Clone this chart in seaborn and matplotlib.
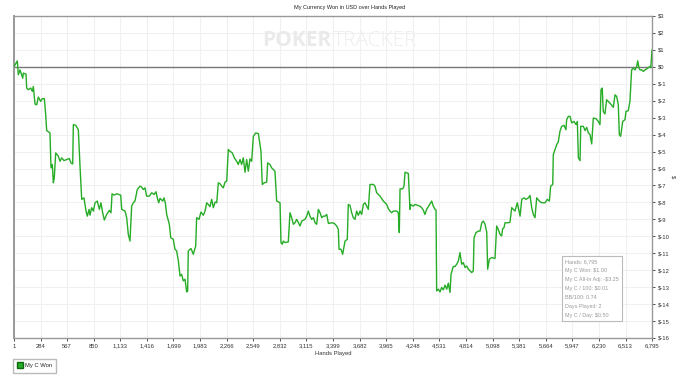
import matplotlib
matplotlib.use("Agg")
import matplotlib.pyplot as plt
import seaborn as sns
import pandas as pd
from matplotlib.lines import Line2D

hands = [1, 12, 36, 47, 65, 94, 100, 129, 136, 153, 179, 196, 207, 225, 243, 260, 285, 302, 324, 338,
         349, 384, 395, 409, 420, 430, 445, 473, 491, 509, 533, 562, 590, 608, 626, 633, 658, 686, 704, 722,
         746, 768, 782, 800, 810, 828, 846, 864, 888, 910, 927, 945, 963, 988, 1016, 1034, 1045, 1066, 1095, 1137,
         1148, 1183, 1201, 1218, 1236, 1254, 1271, 1289, 1314, 1343, 1361, 1378, 1396, 1414, 1442, 1467, 1492, 1513, 1527, 1542,
         1556, 1585, 1598, 1612, 1627, 1655, 1670, 1697, 1715, 1733, 1751, 1769, 1786, 1804, 1822, 1840, 1850, 1857, 1886, 1910,
         1936, 1946, 1971, 1992, 2017, 2035, 2053, 2070, 2088, 2106, 2124, 2142, 2160, 2177, 2195, 2213, 2230, 2248, 2266, 2283,
         2301, 2326, 2347, 2372, 2389, 2408, 2425, 2443, 2461, 2479, 2496, 2514, 2532, 2550, 2575, 2603, 2621, 2631, 2645, 2667,
         2692, 2702, 2727, 2745, 2762, 2780, 2798, 2834, 2844, 2858, 2869, 2887, 2922, 2940, 2958, 2976, 2993, 3011, 3029, 3047,
         3065, 3100, 3118, 3135, 3153, 3171, 3189, 3207, 3224, 3242, 3260, 3278, 3295, 3313, 3331, 3349, 3384, 3412, 3437, 3455,
         3462, 3483, 3501, 3526, 3550, 3561, 3579, 3597, 3614, 3632, 3650, 3668, 3686, 3703, 3721, 3739, 3757, 3774, 3792, 3828,
         3845, 3863, 3899, 3934, 3952, 3970, 3987, 4005, 4023, 4041, 4076, 4094, 4104, 4112, 4140, 4154, 4165, 4200, 4218, 4225,
         4253, 4271, 4324, 4342, 4359, 4377, 4395, 4413, 4449, 4466, 4484, 4495, 4502, 4520, 4537, 4555, 4573, 4591, 4609, 4626,
         4644, 4655, 4679, 4697, 4715, 4733, 4750, 4768, 4786, 4804, 4822, 4839, 4857, 4875, 4892, 4900, 4921, 4946, 4964, 4982,
         5000, 5017, 5035, 5045, 5063, 5088, 5123, 5141, 5158, 5176, 5194, 5205, 5219, 5230, 5265, 5283, 5301, 5336, 5361, 5390,
         5408, 5432, 5453, 5478, 5496, 5514, 5531, 5549, 5567, 5595, 5620, 5656, 5680, 5702, 5716, 5738, 5744, 5762, 5780, 5797,
         5815, 5833, 5858, 5879, 5886, 5904, 5922, 5940, 5964, 5986, 6000, 6011, 6029, 6036, 6064, 6082, 6100, 6117, 6135, 6153,
         6170, 6199, 6223, 6241, 6252, 6265, 6276, 6294, 6312, 6347, 6383, 6401, 6419, 6436, 6447, 6461, 6483, 6507, 6518, 6542,
         6560, 6578, 6596, 6614, 6632, 6643, 6657, 6668, 6686, 6703, 6721, 6739, 6757, 6775, 6782, 6795]

won = [0.00, 0.12, 0.35, -0.47, -0.18, -0.67, -0.37, -0.43, -1.25, -1.35, -1.25, -1.45, -1.16, -2.20, -2.24, -1.78, -2.04, -1.88, -1.88, -2.78,
       -3.76, -3.90, -5.96, -5.76, -6.84, -6.55, -5.08, -5.27, -5.57, -5.37, -5.53, -5.47, -5.41, -5.67, -5.73, -3.41, -3.45, -3.71, -5.86, -7.82,
       -7.73, -8.51, -8.81, -8.41, -8.75, -8.31, -8.51, -8.02, -7.92, -8.41, -8.02, -8.61, -9.04, -8.71, -8.47, -8.61, -7.49, -7.57, -7.49, -7.57,
       -8.41, -8.51, -8.90, -9.88, -10.28, -8.22, -8.02, -7.92, -7.24, -7.04, -7.10, -7.24, -7.14, -7.63, -7.63, -7.43, -7.53, -7.37, -7.73, -8.02,
       -7.76, -7.92, -7.73, -8.02, -8.71, -9.29, -10.08, -10.18, -10.76, -10.86, -11.45, -12.34, -12.24, -12.63, -12.53, -13.28, -13.24, -10.86, -10.72, -11.06,
       -10.57, -8.90, -9.00, -8.57, -8.76, -8.51, -8.02, -8.12, -8.25, -7.82, -8.31, -7.98, -8.02, -6.84, -6.90, -7.04, -7.14, -6.80, -6.75, -4.88,
       -4.98, -5.08, -5.37, -5.57, -5.76, -5.47, -5.76, -5.37, -6.22, -5.47, -6.16, -5.43, -5.57, -4.10, -3.90, -3.94, -4.59, -4.98, -6.94, -6.84,
       -6.80, -5.67, -5.76, -5.96, -6.06, -6.16, -7.92, -8.02, -10.37, -10.47, -10.28, -10.37, -10.33, -8.61, -8.90, -9.29, -9.20, -9.00, -9.20, -9.39,
       -9.10, -9.00, -8.81, -8.51, -8.81, -9.00, -8.90, -9.20, -9.29, -8.41, -8.61, -8.90, -8.81, -8.81, -8.71, -9.24, -9.20, -9.24, -9.39, -9.59,
       -10.76, -10.76, -11.06, -10.28, -10.18, -8.12, -8.18, -8.61, -8.90, -9.00, -8.51, -8.76, -8.51, -8.71, -8.12, -8.02, -8.22, -8.41, -6.94, -6.94,
       -7.04, -7.43, -7.63, -7.92, -8.02, -8.12, -8.37, -8.51, -8.61, -8.51, -8.51, -8.61, -9.78, -7.20, -7.20, -7.04, -6.22, -6.29, -8.41, -8.12,
       -8.22, -8.12, -8.22, -8.31, -8.45, -8.71, -8.41, -8.25, -7.92, -8.22, -8.41, -8.45, -13.22, -13.12, -13.28, -13.02, -13.16, -12.88, -13.12, -12.76,
       -13.31, -12.24, -11.78, -11.78, -11.65, -11.45, -10.96, -11.65, -11.55, -11.84, -11.75, -11.94, -12.04, -12.14, -12.04, -10.08, -9.78, -9.69, -9.69, -9.20,
       -9.10, -9.29, -9.75, -11.94, -11.35, -11.25, -11.31, -9.39, -9.59, -9.88, -9.98, -9.55, -9.49, -9.20, -9.20, -9.16, -8.31, -8.51, -8.02, -8.81,
       -7.82, -7.73, -7.82, -7.73, -7.59, -8.31, -8.71, -8.90, -7.73, -7.92, -8.02, -8.02, -7.82, -7.92, -7.04, -6.94, -5.18, -4.88, -4.59, -4.43,
       -3.80, -3.51, -3.45, -3.71, -3.12, -2.92, -2.92, -3.31, -3.22, -3.41, -3.22, -5.37, -5.53, -3.51, -3.51, -3.76, -3.57, -3.90, -4.00, -4.55,
       -3.02, -3.06, -3.22, -3.41, -1.35, -1.25, -2.63, -2.78, -1.94, -2.14, -2.39, -1.65, -1.75, -2.24, -4.00, -4.10, -3.22, -3.12, -2.63, -2.59,
       -2.04, -0.18, -0.08, -0.18, 0.02, 0.35, -0.08, -0.18, -0.18, -0.27, -0.18, -0.12, -0.04, 0.02, -0.04, 1.00]

x_ticks = [1, 284, 567, 850, 1133, 1416, 1699, 1983, 2266, 2549, 2832, 3115, 3399,
           3682, 3965, 4248, 4531, 4814, 5098, 5381, 5664, 5947, 6230, 6513, 6795]
y_ticks = list(range(3, -17, -1))
title = "My Currency Won in USD over Hands Played"
x_label = "Hands Played"
y_label = "$"
series_name = "My C Won"
stats = ["Hands: 6,795", "My C Won: $1.00", "My C All-In Adj: -$3.25", "My C / 100: $0.01",
         "BB/100: 0.74", "Days Played: 2", "My C / Day: $0.50"]

sns.set_style("white")
plt.rcParams["font.family"] = ["Liberation Sans", "DejaVu Sans"]
plt.rcParams["text.parse_math"] = False

df = pd.DataFrame({"hands": hands, "won": won})

fig = plt.figure(figsize=(7.0, 3.8), dpi=100)
ax = fig.add_axes([14 / 700, 1 - 338 / 380, (652 - 14) / 700, (338 - 16) / 380])

line_color = "#26ac26"
sns.lineplot(data=df, x="hands", y="won", ax=ax, color=line_color, linewidth=1.0, zorder=3)

ax.set_xlim(1, 6795)
ax.set_ylim(-16, 3)
ax.set_xticks(x_ticks)
ax.set_xticklabels([f"{v:,}" for v in x_ticks])
ax.set_yticks(y_ticks)
ax.set_yticklabels([f"${v}" for v in y_ticks])
ax.yaxis.tick_right()
ax.yaxis.set_label_position("right")
ax.tick_params(axis="both", labelsize=4.2, colors="#333333", length=2.5, width=0.6,
               direction="out", pad=1.5)
ax.tick_params(axis="y", left=False, right=True)
ax.tick_params(axis="x", bottom=True)

ax.grid(True, color="#f0f0f0", linewidth=0.8, zorder=0)
ax.axhline(0, color="#777777", linewidth=1.0, zorder=2)

for side in ["left", "bottom", "right", "top"]:
    ax.spines[side].set_color("#999999")
    ax.spines[side].set_linewidth(1.0)
ax.spines["left"].set_linewidth(1.4)

ax.set_xlabel(x_label, fontsize=4.2, color="#333333", labelpad=2)
ax.set_ylabel(y_label, fontsize=4.2, color="#333333", rotation=270, labelpad=4)

fig.text(0.5, 1 - 8 / 380, title, ha="center", va="center", fontsize=4.0, color="#222222")

# watermark
wm_y = (338 - 41) / 322
ax.text(0.497, wm_y, "POKER", transform=ax.transAxes, ha="right", va="center",
        fontsize=15, fontweight="bold", color="#eaeaea", family="Open Sans", zorder=1)
ax.text(0.499, wm_y, "TRACKER", transform=ax.transAxes, ha="left", va="center",
        fontsize=15, fontweight="light", color="#eeeeee", family="Open Sans", zorder=1)

# stats box
ax.text((565 - 14) / 638, (338 - 259) / 322, "\n".join(stats),
        transform=ax.transAxes, ha="left", va="top", fontsize=3.9, color="#999999",
        linespacing=2.0, zorder=5,
        bbox=dict(boxstyle="square,pad=0.6", facecolor="white", edgecolor="#bbbbbb", linewidth=0.8))

handle = Line2D([], [], marker="s", linestyle="none", markersize=4,
                markerfacecolor=line_color, markeredgecolor="#116611")
fig.legend([handle], [series_name], loc="lower left", bbox_to_anchor=(13 / 700, 7 / 380),
           fontsize=4.2, frameon=True, fancybox=False, edgecolor="#aaaaaa",
           handlelength=0.8, handletextpad=0.4, borderpad=0.8, borderaxespad=0)

fig.savefig("out.png", dpi=100)
